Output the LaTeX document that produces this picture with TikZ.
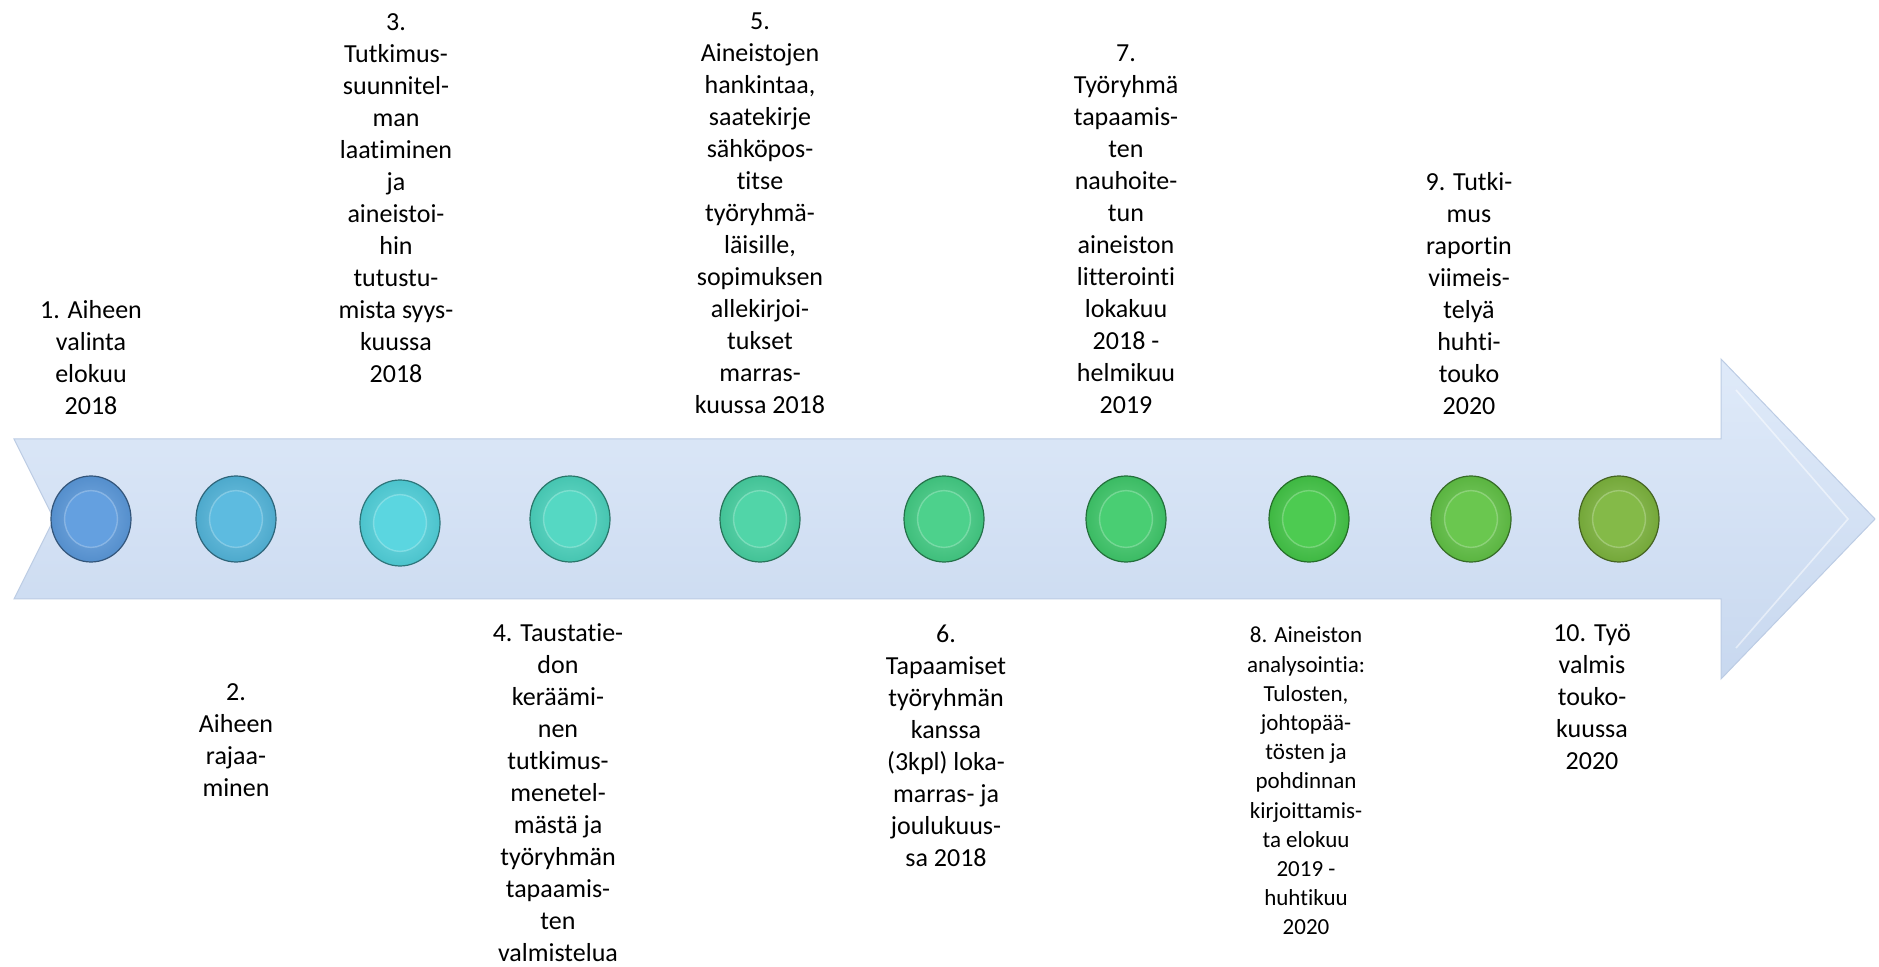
\documentclass[tikz,border=0pt]{standalone}
\usepackage{fontspec}
\setmainfont{Carlito}[Ligatures={NoCommon,NoContextual}]
\usetikzlibrary{shapes.geometric}

\definecolor{arrowtop}{RGB}{223,234,249}
\definecolor{arrowbot}{RGB}{200,216,239}
\definecolor{arrowedge}{RGB}{188,204,228}
\definecolor{kA}{RGB}{92,155,222}
\definecolor{kB}{RGB}{84,184,222}
\definecolor{kC}{RGB}{82,212,222}
\definecolor{kD}{RGB}{76,214,192}
\definecolor{kE}{RGB}{72,211,163}
\definecolor{kF}{RGB}{68,207,134}
\definecolor{kG}{RGB}{64,203,108}
\definecolor{kH}{RGB}{68,200,72}
\definecolor{kI}{RGB}{98,196,70}
\definecolor{kJ}{RGB}{126,182,62}

\begin{document}
\begin{tikzpicture}[x=0.5pt, y=-0.5pt,
    knob/.style={ellipse, minimum width=40pt, minimum height=43pt, inner sep=0pt,
        draw=#1!55!black, line width=0.6pt, inner color=#1!80!white, outer color=#1!92!black,
        path picture={
            \fill[#1!95!white] (path picture bounding box.center) ellipse (13.2pt and 14.2pt);
            \draw[#1!50!white, line width=0.7pt, opacity=0.5] (path picture bounding box.center) ellipse (13.2pt and 14.2pt);}},
    lbl/.style={align=center, inner sep=0pt, font=\fontsize{13}{16}\selectfont}]
    \useasboundingbox (0,0) rectangle (1879,967);

    % Timeline arrow
    \shade[top color=arrowtop, bottom color=arrowbot, draw=arrowedge, line width=0.5pt]
        (14,439) -- (1721,439) -- (1721,359) -- (1875,519) -- (1721,679) -- (1721,599) -- (14,599) -- (54,519) -- cycle;
    \draw[white, opacity=0.5, line width=0.8pt] (1736,390) -- (1848,519) -- (1736,648);

    % Milestones on the arrow
    \node[knob=kA] (c1) at (91,519) {};
    \node[knob=kB] (c2) at (236,519) {};
    \node[knob=kC] (c3) at (400,523) {};
    \node[knob=kD] (c4) at (570,519) {};
    \node[knob=kE] (c5) at (760,519) {};
    \node[knob=kF] (c6) at (944,519) {};
    \node[knob=kG] (c7) at (1126,519) {};
    \node[knob=kH] (c8) at (1309,519) {};
    \node[knob=kI] (c9) at (1471,519) {};
    \node[knob=kJ] (c10) at (1619,519) {};

    % Labels above the arrow
    \node[lbl] (t1) at (91,358) {1. Aiheen\\valinta\\elokuu\\2018};
    \node[lbl] (t3) at (396,198) {3.\\Tutkimus-\\suunnitel-\\man\\laatiminen\\ja\\aineistoi-\\hin\\tutustu-\\mista syys-\\kuussa\\2018};
    \node[lbl] (t5) at (760,213) {5.\\Aineistojen\\hankintaa,\\saatekirje\\sähköpos-\\titse\\työryhmä-\\läisille,\\sopimuksen\\allekirjoi-\\tukset\\marras-\\kuussa 2018};
    \node[lbl] (t7) at (1126,229) {7.\\Työryhmä\\tapaamis-\\ten\\nauhoite-\\tun\\aineiston\\litterointi\\lokakuu\\2018 -\\helmikuu\\2019};
    \node[lbl] (t9) at (1469,294) {9. Tutki-\\mus\\raportin\\viimeis-\\telyä\\huhti-\\touko\\2020};

    % Labels below the arrow
    \node[lbl] (t2) at (236,740) {2.\\Aiheen\\rajaa-\\minen};
    \node[lbl] (t4) at (558,793) {4. Taustatie-\\don\\keräämi-\\nen\\tutkimus-\\menetel-\\mästä ja\\työryhmän\\tapaamis-\\ten\\valmistelua};
    \node[lbl] (t6) at (946,746) {6.\\Tapaamiset\\työryhmän\\kanssa\\(3kpl) loka-\\marras- ja\\joulukuus-\\sa 2018};
    \node[lbl, font=\fontsize{11.5}{14.6}\selectfont] (t8) at (1306,781) {8. Aineiston\\analysointia:\\Tulosten,\\johtopää-\\tösten ja\\pohdinnan\\kirjoittamis-\\ta elokuu\\2019 -\\huhtikuu\\2020};
    \node[lbl] (t10) at (1592,697) {10. Työ\\valmis\\touko-\\kuussa\\2020};
\end{tikzpicture}
\end{document}
